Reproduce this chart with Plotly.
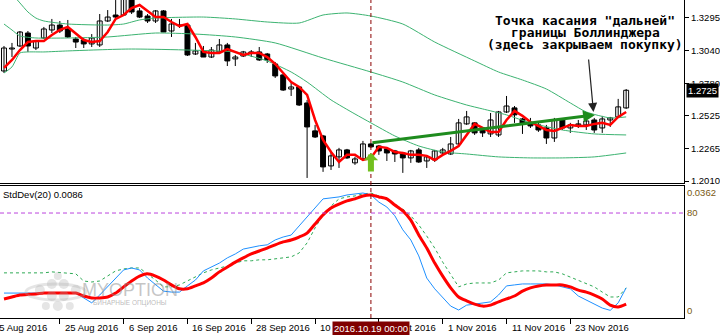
import plotly.graph_objects as go

# ---------------- data (GBPUSD daily, 16 Aug 2016 .. 2 Dec 2016) ----------------
opens = [1.2877,1.3050,1.3074,1.3176,1.3058,1.3137,1.3200,1.3239,1.3208,1.3129,
         1.3121,1.3090,1.3082,1.3271,1.3318,1.3318,1.3444,1.3350,1.3310,1.3271,
         1.3350,1.3192,1.3239,1.3239,1.3011,1.3035,1.2987,1.3027,1.3082,1.2972,
         1.2995,1.3027,1.3027,1.3011,1.2932,1.2846,1.2735,1.2751,1.2625,1.2405,
         1.2365,1.2129,1.2200,1.2255,1.2153,1.2184,1.2302,1.2286,1.2263,1.2247,
         1.2231,1.2192,1.2255,1.2168,1.2176,1.2231,1.2223,1.2302,1.2460,1.2468,
         1.2428,1.2381,1.2373,1.2554,1.2586,1.2499,1.2468,1.2452,1.2428,1.2349,
         1.2491,1.2428,1.2452,1.2452,1.2491,1.2428,1.2491,1.2515,1.2586]
highs = [1.3074,1.3098,1.3192,1.3192,1.3121,1.3224,1.3287,1.3271,1.3279,1.3145,
         1.3137,1.3168,1.3326,1.3357,1.3436,1.3476,1.3468,1.3373,1.3326,1.3357,
         1.3357,1.3287,1.3287,1.3255,1.3098,1.3074,1.3066,1.3129,1.3098,1.3003,
         1.3035,1.3042,1.3066,1.3019,1.2948,1.2853,1.2783,1.2759,1.2649,1.2452,
         1.2373,1.2239,1.2271,1.2263,1.2200,1.2326,1.2310,1.2294,1.2271,1.2255,
         1.2239,1.2255,1.2271,1.2208,1.2255,1.2271,1.2357,1.2499,1.2562,1.2475,
         1.2436,1.2546,1.2562,1.2680,1.2601,1.2507,1.2507,1.2468,1.2452,1.2507,
         1.2499,1.2468,1.2491,1.2515,1.2507,1.2523,1.2515,1.2657,1.2735]
lows = [1.2861,1.2987,1.3066,1.3027,1.3042,1.3129,1.3176,1.3176,1.3137,1.3058,
        1.3058,1.3066,1.3066,1.3263,1.3294,1.3310,1.3326,1.3294,1.3255,1.3255,
        1.3184,1.3145,1.3216,1.2995,1.3003,1.2987,1.2979,1.3019,1.2916,1.2916,
        1.2987,1.2987,1.2956,1.2940,1.2822,1.2720,1.2680,1.2601,1.2034,1.2349,
        1.2082,1.2097,1.2113,1.2184,1.2137,1.2176,1.2271,1.2216,1.2168,1.2160,
        1.2074,1.2153,1.2153,1.2113,1.2160,1.2223,1.2216,1.2286,1.2452,1.2373,
        1.2357,1.2357,1.2357,1.2546,1.2468,1.2381,1.2428,1.2397,1.2302,1.2318,
        1.2412,1.2389,1.2428,1.2412,1.2389,1.2389,1.2436,1.2507,1.2578]
closes = [1.3058,1.3058,1.3184,1.3074,1.3113,1.3208,1.3239,1.3192,1.3145,1.3105,
          1.3090,1.3137,1.3271,1.3302,1.3302,1.3452,1.3342,1.3302,1.3271,1.3350,
          1.3184,1.3247,1.3236,1.3003,1.3035,1.2987,1.3042,1.3082,1.2956,1.2987,
          1.3027,1.3019,1.2964,1.2964,1.2838,1.2727,1.2751,1.2609,1.2436,1.2357,
          1.2121,1.2208,1.2255,1.2192,1.2184,1.2302,1.2279,1.2247,1.2231,1.2223,
          1.2192,1.2247,1.2160,1.2200,1.2247,1.2255,1.2302,1.2468,1.2515,1.2389,
          1.2389,1.2491,1.2554,1.2601,1.2531,1.2460,1.2444,1.2412,1.2349,1.2491,
          1.2428,1.2452,1.2460,1.2483,1.2412,1.2499,1.2507,1.2594,1.2725]
ma_red = [1.2901,1.2964,1.3042,1.3105,1.3113,1.3113,1.3161,1.3200,1.3224,1.3176,
          1.3121,1.3105,1.3113,1.3184,1.3287,1.3318,1.3373,1.3397,1.3350,1.3302,
          1.3302,1.3263,1.3231,1.3247,1.3145,1.3027,1.3019,1.3019,1.3050,1.3027,
          1.3003,1.3019,1.3019,1.2987,1.2932,1.2861,1.2790,1.2751,1.2688,1.2491,
          1.2334,1.2239,1.2160,1.2216,1.2216,1.2176,1.2192,1.2279,1.2271,1.2239,
          1.2231,1.2216,1.2216,1.2208,1.2176,1.2216,1.2247,1.2286,1.2373,1.2460,
          1.2428,1.2397,1.2397,1.2491,1.2562,1.2523,1.2475,1.2444,1.2412,1.2405,
          1.2428,1.2452,1.2444,1.2444,1.2460,1.2468,1.2452,1.2515,1.2554]

bb_up_idx = [0,1,2,3,4,5,8,13,15,17,19,25,29,33,37,40,43,46,50,54,59,62,65,68,71,73,76,78]
bb_up_val = [1.3547,1.3484,1.3413,1.3342,1.3294,1.3271,1.3247,1.3239,1.3247,1.3279,
             1.3294,1.3302,1.3287,1.3263,1.3255,1.3318,1.3334,1.3310,1.3247,1.3105,
             1.2956,1.2869,1.2806,1.2735,1.2625,1.2554,1.2507,1.2515]
bb_mid_idx = [0,1,2,4,8,13,19,24,29,34,40,46,50,54,58,60,63,66,70,74,78]
bb_mid_val = [1.3247,1.3200,1.3153,1.3137,1.3137,1.3145,1.3176,1.3168,1.3145,1.3098,
              1.2979,1.2869,1.2790,1.2688,1.2609,1.2578,1.2531,1.2468,1.2412,1.2381,1.2373]
bb_low_idx = [0,1,2,3,5,8,16,29,30,33,36,38,41,44,46,49,52,55,58,62,66,70,74,78]
bb_low_val = [1.2861,1.2909,1.3019,1.3027,1.3027,1.3035,1.3050,1.3027,1.3011,1.2956,
              1.2869,1.2790,1.2649,1.2538,1.2468,1.2365,1.2286,1.2239,1.2223,1.2200,
              1.2192,1.2192,1.2200,1.2231]

# lower window (values in pips, 0.0001)
sd_blue = [55,55,55,55,55,55,55,55,55,55,
           40,25,49,74,101,126,132,126,101,80,
           61,58,58,77,95,123,135,147,163,175,
           190,196,200,203,218,227,233,261,289,319,
           344,347,350,356,359,362,356,334,319,292,
           249,218,169,101,68,43,15,3,18,21,
           25,28,49,77,80,83,83,83,83,80,
           74,68,46,34,21,9,2,25,71]
sd_red = [37,43,49,51,52,55,55,55,55,55,
          46,40,40,43,55,74,92,107,114,107,
          95,80,68,68,77,86,101,120,135,150,
          163,175,184,193,203,212,218,227,239,267,
          295,316,328,338,344,353,356,350,344,325,
          307,279,233,193,147,107,71,43,31,21,
          15,18,28,37,46,61,71,77,80,80,
          80,74,64,58,49,37,18,12,21]
sd_green = [117,117,117,117,117,117,120,118,116,114,
            92,89,92,107,123,129,132,132,114,95,
            74,74,80,92,104,117,126,132,138,147,
            154,154,157,157,160,163,166,178,209,255,
            295,322,344,350,353,359,362,353,341,325,
            313,292,264,230,193,150,110,74,83,86,
            86,86,95,117,120,123,123,123,120,120,
            114,104,95,86,74,58,43,43,71]
level_80 = 300.6

price_ticks = [1.3295, 1.3040, 1.2780, 1.2525, 1.2265, 1.2010]
tick_bars = [-1, 7, 15, 23, 31, 39, 47, 55, 63, 71]
tick_labels = ["15 Aug 2016", "25 Aug 2016", "6 Sep 2016", "16 Sep 2016", "28 Sep 2016",
               "10 Oct 2016", "20 Oct 2016", "1 Nov 2016", "11 Nov 2016", "23 Nov 2016"]
signal_bar = 46
signal_label = "2016.10.19 00:00"
trend_start = (46, 1.2310)
trend_end = (74.1, 1.2531)
touch_point = (73.9, 1.2554)
entry_tip = 1.2231
last_price = 1.2725
note_lines = ['Точка касания "дальней"', 'границы Боллинджера', '(здесь закрываем покупку)']

# ---------------- figure ----------------
N = len(opens)
idx = list(range(N))
FONT = "Liberation Sans"
FS = 9.5

fig = go.Figure()

wx, wy = [], []
for i in idx:
    wx += [i, i, None]
    wy += [lows[i], highs[i], None]
fig.add_trace(go.Scatter(x=wx, y=wy, mode="lines", line=dict(color="black", width=1),
                         xaxis="x", yaxis="y", hoverinfo="skip", showlegend=False))

bull = [i for i in idx if closes[i] >= opens[i]]
bear = [i for i in idx if closes[i] < opens[i]]
for sel, fill in ((bull, "white"), (bear, "black")):
    fig.add_trace(go.Bar(x=sel,
                         y=[abs(closes[i] - opens[i]) for i in sel],
                         base=[min(opens[i], closes[i]) for i in sel],
                         width=0.62, marker=dict(color=fill, line=dict(color="black", width=1)),
                         xaxis="x", yaxis="y", showlegend=False, hoverinfo="skip"))

for bi, bv in ((bb_up_idx, bb_up_val), (bb_mid_idx, bb_mid_val), (bb_low_idx, bb_low_val)):
    fig.add_trace(go.Scatter(x=bi, y=bv, mode="lines",
                             line=dict(color="#3CB371", width=1, shape="spline", smoothing=0.6),
                             xaxis="x", yaxis="y", showlegend=False, hoverinfo="skip"))

fig.add_trace(go.Scatter(x=idx, y=ma_red, mode="lines", line=dict(color="#FF0000", width=2.5),
                         xaxis="x", yaxis="y", showlegend=False, hoverinfo="skip"))

# lower window
fig.add_trace(go.Scatter(x=idx, y=sd_green, mode="lines",
                         line=dict(color="#2EAA55", width=1, dash="3px,3px"),
                         xaxis="x2", yaxis="y2", showlegend=False, hoverinfo="skip"))
fig.add_trace(go.Scatter(x=idx, y=sd_blue, mode="lines",
                         line=dict(color="#1E90FF", width=1),
                         xaxis="x2", yaxis="y2", showlegend=False, hoverinfo="skip"))
fig.add_trace(go.Scatter(x=idx, y=sd_red, mode="lines",
                         line=dict(color="#FF0000", width=3, shape="spline", smoothing=0.6),
                         xaxis="x2", yaxis="y2", showlegend=False, hoverinfo="skip"))

up_dom = [1 - 183 / 318, 1]
lo_dom = [0, 1 - 186 / 318]

ann = []
# x tick labels (MT4 style: text to the right of the tick)
for b, t in zip(tick_bars, tick_labels):
    if b < 0:
        ann.append(dict(x=0, xref="paper", y=0, yref="paper", yanchor="top", xanchor="left",
                        xshift=-8, yshift=-2, text=t, showarrow=False,
                        font=dict(family=FONT, size=FS, color="black")))
    else:
        ann.append(dict(x=b, xref="x", y=0, yref="paper", yanchor="top", xanchor="left",
                        xshift=3, yshift=-2, text=t, showarrow=False,
                        font=dict(family=FONT, size=FS, color="black")))
ann.append(dict(x=signal_bar, xref="x", y=0, yref="paper", yanchor="top", xanchor="center",
                yshift=-3, text=signal_label, showarrow=False, bgcolor="#800000", borderpad=1,
                font=dict(family=FONT, size=FS, color="white")))
ann.append(dict(x=1, xref="paper", xanchor="left", xshift=2, y=last_price, yref="y",
                text=f"{last_price:.4f}", showarrow=False, bgcolor="black",
                borderpad=1, font=dict(family=FONT, size=FS, color="white")))
ann.append(dict(x=0, xref="paper", xanchor="left", xshift=1, y=lo_dom[1], yref="paper",
                yanchor="top", yshift=-1, text="StdDev(20) 0.0086", showarrow=False,
                font=dict(family=FONT, size=FS, color="black")))
# trend line arrow
ann.append(dict(x=trend_end[0], y=trend_end[1], xref="x", yref="y",
                ax=trend_start[0], ay=trend_start[1], axref="x", ayref="y",
                text="", showarrow=True, arrowhead=2, arrowsize=0.8, arrowwidth=3,
                arrowcolor="#1E8C1E"))
# entry arrow
ann.append(dict(x=signal_bar, y=entry_tip, xref="x", yref="y", ax=0, ay=20,
                text="", showarrow=True, arrowhead=1, arrowsize=0.4, arrowwidth=6,
                arrowcolor="#72BF1E"))
# note arrow
ann.append(dict(x=touch_point[0], y=touch_point[1], xref="x", yref="y", ax=-5, ay=-54,
                text="", showarrow=True, arrowhead=2, arrowsize=1.5, arrowwidth=1.2,
                arrowcolor="#222222"))
for k, line in enumerate(note_lines):
    ann.append(dict(x=587 / 686, xref="paper", y=1 - (21 + 12 * k) / 318, yref="paper",
                    xanchor="center", yanchor="middle", text=line, showarrow=False,
                    font=dict(family="DejaVu Sans Mono", size=13, color="black", weight="bold")))
# watermark
ann.append(dict(x=130 / 686, xref="paper", y=1 - 290 / 318, yref="paper", text="MYOPTION",
                xanchor="center", yanchor="middle", showarrow=False,
                font=dict(family=FONT, size=18, color="rgba(140,140,140,0.5)")))
ann.append(dict(x=130 / 686, xref="paper", y=1 - 303 / 318, yref="paper", text="БИНАРНЫЕ ОПЦИОНЫ",
                xanchor="center", yanchor="middle", showarrow=False,
                font=dict(family=FONT, size=6.5, color="rgba(140,140,140,0.6)")))

shapes = [
    dict(type="line", xref="x", yref="paper", x0=signal_bar, x1=signal_bar, y0=0, y1=1,
         line=dict(color="#8B0000", width=1, dash="4px,3px")),
    dict(type="line", xref="paper", yref="y2", x0=0, x1=1, y0=level_80, y1=level_80,
         line=dict(color="#BB44DD", width=1, dash="4px,3px")),
]
# watermark logo (faint dots)
for (cx, cy, r) in [(40, 290, 5), (52, 284, 5), (64, 284, 5), (52, 296, 5), (64, 296, 5),
                    (76, 290, 5), (58, 306, 5), (46, 306, 4), (58, 276, 4), (70, 306, 4)]:
    shapes.append(dict(type="circle", xref="paper", yref="paper",
                       x0=(cx - r) / 686, x1=(cx + r) / 686, y0=1 - (cy + r) / 318, y1=1 - (cy - r) / 318,
                       line=dict(width=0), fillcolor="rgba(170,170,170,0.3)"))
shapes.append(dict(type="circle", xref="paper", yref="paper", x0=26 / 686, x1=86 / 686,
                   y0=1 - 300 / 318, y1=1 - 284 / 318, line=dict(color="rgba(170,170,170,0.3)", width=3)))

fig.update_layout(
    width=720, height=335, margin=dict(l=0, r=34, t=0, b=17),
    paper_bgcolor="white", plot_bgcolor="white", showlegend=False, barmode="overlay",
    xaxis=dict(domain=[0, 1], range=[-0.5, 85.25], anchor="y", showticklabels=False,
               showgrid=False, zeroline=False, showline=True, linecolor="black", linewidth=1,
               ticks=""),
    yaxis=dict(domain=up_dom, range=[1.19943, 1.34363], side="right", anchor="x",
               tickvals=price_ticks, ticktext=[f"{v:.4f}" for v in price_ticks],
               ticks="outside", ticklen=4, tickcolor="black", showgrid=False, zeroline=False,
               showline=True, linecolor="black", linewidth=1,
               tickfont=dict(family=FONT, size=FS, color="black")),
    xaxis2=dict(domain=[0, 1], matches="x", anchor="y2", showticklabels=False,
                showgrid=False, zeroline=False, showline=True, mirror=True, linecolor="black",
                linewidth=1, tickvals=tick_bars, ticks="outside", ticklen=5, tickcolor="black"),
    yaxis2=dict(domain=lo_dom, range=[-21.5, 383.5], side="right", anchor="x2",
                tickvals=[362, level_80, 0], ticktext=["0.0362", "80", "0"],
                ticks="", showgrid=False, zeroline=False, showline=True, linecolor="black",
                linewidth=1, tickfont=dict(family=FONT, size=FS, color="#7A5A10")),
    annotations=ann, shapes=shapes,
)

fig.write_html("out.html")
